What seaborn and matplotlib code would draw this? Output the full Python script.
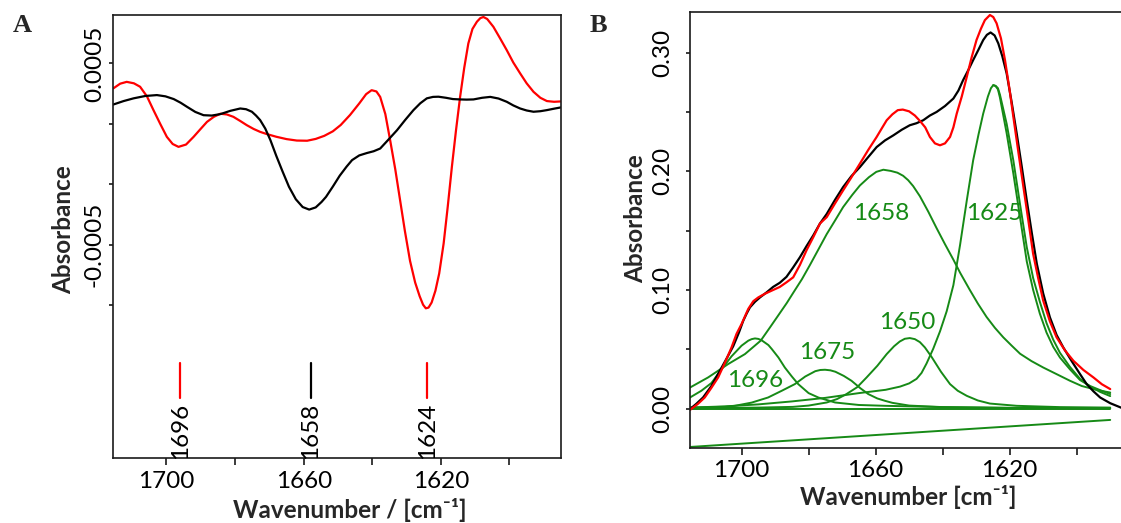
import matplotlib
matplotlib.use("Agg")
import matplotlib.pyplot as plt
import seaborn as sns

# ---------------- Panel A: second-derivative spectra ----------------
wn_a_red = [1715.5, 1713.5, 1711.6, 1709.5, 1707.7, 1705.7, 1703.8, 1701.8, 1699.9, 1698.2,
            1696.5, 1694.3, 1692.1, 1690.2, 1688.2, 1686.2, 1684.3, 1682.4, 1680.5, 1678.5,
            1676.6, 1674.6, 1672.7, 1670.8, 1668.0, 1665.0, 1662.0, 1659.0, 1656.5, 1654.0,
            1651.5, 1649.2, 1646.5, 1643.8, 1641.8, 1640.2, 1638.8, 1637.7, 1636.2, 1634.8,
            1633.3, 1631.9, 1630.5, 1629.0, 1627.5, 1626.2, 1625.2, 1624.4, 1623.6, 1622.7,
            1621.6, 1620.5, 1619.2, 1618.0, 1616.8, 1615.6, 1614.4, 1613.2, 1612.0, 1610.8,
            1609.5, 1608.5, 1607.6, 1606.5, 1604.7, 1602.8, 1600.8, 1598.9, 1596.9, 1595.0,
            1593.0, 1591.0, 1589.1, 1587.0, 1585.0]
abs_a_red = [3.62, 3.88, 3.98, 3.90, 3.71, 3.18, 2.42, 1.65, 0.945, 0.55,
             0.392, 0.52, 0.945, 1.35, 1.77, 2.05, 2.22, 2.18, 2.05, 1.82,
             1.59, 1.38, 1.22, 1.10, 0.95, 0.82, 0.74, 0.73, 0.83, 1.00,
             1.25, 1.60, 2.15, 2.79, 3.30, 3.52, 3.45, 3.15, 2.20, 0.762,
             -0.85, -2.55, -4.25, -5.90, -7.10, -7.85, -8.32, -8.52, -8.48, -8.20,
             -7.55, -6.60, -4.94, -2.90, -0.713, 1.30, 3.15, 4.75, 6.10, 6.90,
             7.30, 7.50, 7.56, 7.45, 7.02, 6.40, 5.73, 5.05, 4.45, 3.90,
             3.43, 3.10, 2.92, 2.88, 2.90]

wn_a_black = [1715.5, 1712.5, 1709.6, 1706.2, 1702.8, 1700.3, 1697.9, 1695.9, 1694.0, 1691.6,
              1689.2, 1686.8, 1684.3, 1681.4, 1678.5, 1676.8, 1675.1, 1673.9, 1672.7, 1671.2,
              1669.7, 1668.0, 1666.2, 1664.3, 1662.3, 1660.3, 1658.4, 1656.5, 1654.8, 1653.5,
              1651.5, 1649.5, 1647.5, 1645.9, 1643.8, 1641.6, 1639.6, 1637.7, 1635.5, 1632.8,
              1630.4, 1628.0, 1626.0, 1624.1, 1622.3, 1620.7, 1618.5, 1616.5, 1614.4, 1612.5,
              1610.5, 1608.0, 1605.6, 1603.2, 1600.8, 1598.9, 1596.9, 1595.0, 1593.0, 1591.0,
              1589.1, 1587.0, 1585.0]
abs_a_black = [2.73, 2.92, 3.07, 3.20, 3.25, 3.18, 3.03, 2.83, 2.60, 2.32,
               2.14, 2.12, 2.20, 2.38, 2.51, 2.47, 2.33, 2.12, 1.87, 1.40,
               0.76, -0.10, -0.95, -1.81, -2.50, -2.93, -3.07, -2.95, -2.65, -2.37,
               -1.80, -1.20, -0.70, -0.34, -0.08, 0.05, 0.15, 0.30, 0.75, 1.31,
               1.88, 2.42, 2.80, 3.07, 3.15, 3.16, 3.10, 3.03, 3.01, 3.00,
               3.01, 3.10, 3.15, 3.06, 2.88, 2.68, 2.51, 2.40, 2.33, 2.36,
               2.42, 2.50, 2.57]

# band positions marked under the spectra
mark_wn = [1696, 1658, 1624]
mark_colors = ["#ff0000", "black", "#ff0000"]

# ---------------- Panel B: amide I band and fitted components ----------------
wn_b_black = [1715.4, 1713.5, 1711.5, 1709.0, 1706.5, 1704.5, 1702.5, 1700.8, 1699.5, 1698.5,
              1697.5, 1696.0, 1694.5, 1692.5, 1690.6, 1688.6, 1686.6, 1684.6, 1682.6, 1680.6,
              1678.6, 1676.6, 1674.6, 1672.1, 1669.7, 1667.2, 1664.7, 1662.2, 1659.7, 1657.2,
              1654.7, 1652.2, 1649.8, 1647.8, 1645.8, 1643.8, 1641.8, 1639.3, 1636.8, 1635.3,
              1633.9, 1632.4, 1630.9, 1629.4, 1627.9, 1626.8, 1625.7, 1624.5, 1623.4, 1622.2,
              1620.9, 1619.4, 1617.9, 1616.4, 1614.9, 1613.4, 1611.9, 1610.0, 1608.0, 1606.0,
              1604.0, 1601.5, 1599.0, 1597.0, 1595.0, 1593.0, 1590.0, 1586.8, 1582.3]
abs_b_black = [-0.0005, 0.0040, 0.0093, 0.0190, 0.0318, 0.0420, 0.0525, 0.0640, 0.0740, 0.0800,
               0.0853, 0.0900, 0.0937, 0.0980, 0.1025, 0.1060, 0.1110, 0.1190, 0.1275, 0.1370,
               0.1460, 0.1560, 0.1640, 0.1760, 0.1867, 0.1960, 0.2035, 0.2120, 0.2204, 0.2260,
               0.2303, 0.2350, 0.2388, 0.2405, 0.2430, 0.2470, 0.2500, 0.2550, 0.2613, 0.2680,
               0.2768, 0.2850, 0.2937, 0.3020, 0.3106, 0.3150, 0.3170, 0.3145, 0.3078, 0.2970,
               0.2824, 0.2580, 0.2318, 0.2040, 0.1754, 0.1480, 0.1220, 0.0970, 0.0769, 0.0620,
               0.0515, 0.0400, 0.0290, 0.0205, 0.0145, 0.0093, 0.0045, 0.0008, -0.0030]

wn_b_red = [1715.4, 1713.0, 1711.0, 1709.0, 1707.0, 1705.0, 1703.0, 1701.5, 1700.0, 1698.0,
            1696.5, 1695.0, 1693.0, 1691.0, 1688.6, 1686.6, 1684.6, 1682.6, 1680.6, 1678.6,
            1676.6, 1674.6, 1672.1, 1669.7, 1667.2, 1664.7, 1662.2, 1659.7, 1658.2, 1656.7,
            1655.0, 1653.4, 1651.9, 1650.0, 1648.3, 1646.8, 1645.2, 1643.8, 1642.3, 1640.8,
            1639.3, 1637.8, 1636.8, 1635.8, 1634.3, 1632.8, 1631.4, 1629.9, 1628.6, 1627.4,
            1625.9, 1624.9, 1623.9, 1622.6, 1621.4, 1620.1, 1618.9, 1617.4, 1615.9, 1614.4,
            1613.0, 1611.5, 1610.0, 1608.0, 1606.0, 1603.5, 1601.0, 1598.0, 1595.0, 1592.5,
            1590.0]
abs_b_red = [-0.0012, 0.0040, 0.0093, 0.0175, 0.0262, 0.0385, 0.0515, 0.0630, 0.0713, 0.0840,
             0.0905, 0.0937, 0.0968, 0.0994, 0.1025, 0.1064, 0.1106, 0.1210, 0.1335, 0.1445,
             0.1560, 0.1613, 0.1730, 0.1839, 0.1950, 0.2064, 0.2180, 0.2289, 0.2360, 0.2430,
             0.2480, 0.2515, 0.2520, 0.2505, 0.2470, 0.2425, 0.2370, 0.2289, 0.2235, 0.2219,
             0.2235, 0.2289, 0.2370, 0.2486, 0.2630, 0.2796, 0.2955, 0.3106, 0.3200, 0.3274,
             0.3317, 0.3300, 0.3247, 0.3120, 0.2937, 0.2700, 0.2458, 0.2160, 0.1867, 0.1580,
             0.1304, 0.1100, 0.0910, 0.0735, 0.0600, 0.0490, 0.0403, 0.0325, 0.0262, 0.0205,
             0.0164]

wn_c1696 = [1715.4, 1712.0, 1709.0, 1706.0, 1703.0, 1700.0, 1698.0, 1697.0, 1696.0, 1695.0,
            1694.0, 1692.0, 1691.0, 1689.0, 1687.1, 1685.0, 1683.1, 1680.0, 1677.1, 1672.1,
            1665.0, 1657.2, 1640.0, 1620.0, 1590.0]
abs_c1696 = [0.0093, 0.0150, 0.0215, 0.0330, 0.0440, 0.0530, 0.0572, 0.0585, 0.0591, 0.0587,
             0.0575, 0.0535, 0.0502, 0.0430, 0.0346, 0.0270, 0.0206, 0.0130, 0.0093, 0.0051,
             0.0030, 0.0023, 0.0012, 0.0006, 0.0003]

wn_c1675 = [1715.4, 1705.0, 1702.0, 1697.0, 1692.1, 1688.0, 1684.1, 1681.0, 1678.0, 1676.5,
            1675.1, 1673.5, 1672.0, 1669.5, 1667.2, 1664.5, 1662.2, 1659.5, 1657.2, 1655.0,
            1650.0, 1640.0, 1620.0, 1590.0]
abs_c1675 = [0.0008, 0.0015, 0.0023, 0.0050, 0.0093, 0.0150, 0.0206, 0.0270, 0.0315, 0.0325,
             0.0327, 0.0322, 0.0310, 0.0275, 0.0234, 0.0170, 0.0122, 0.0085, 0.0065, 0.0048,
             0.0025, 0.0012, 0.0005, 0.0002]

wn_c1658 = [1715.4, 1710.0, 1704.0, 1699.0, 1694.3, 1691.5, 1689.3, 1686.5, 1684.6, 1682.0,
            1679.6, 1677.0, 1674.6, 1672.0, 1669.7, 1667.0, 1664.7, 1662.0, 1659.8, 1657.7,
            1655.5, 1653.5, 1651.8, 1650.3, 1648.8, 1646.8, 1644.3, 1641.8, 1639.3, 1636.8,
            1634.8, 1631.9, 1629.5, 1626.9, 1624.4, 1621.9, 1619.4, 1616.9, 1613.5, 1610.0,
            1606.0, 1602.0, 1598.5, 1595.0, 1592.5, 1590.0]
abs_c1658 = [0.0177, 0.0262, 0.0375, 0.0459, 0.0572, 0.0685, 0.0775, 0.0890, 0.0975, 0.1090,
             0.1210, 0.1345, 0.1470, 0.1590, 0.1698, 0.1800, 0.1880, 0.1950, 0.1995, 0.2013,
             0.2003, 0.1988, 0.1962, 0.1925, 0.1875, 0.1790, 0.1660, 0.1520, 0.1385, 0.1255,
             0.1145, 0.1000, 0.0885, 0.0772, 0.0680, 0.0600, 0.0530, 0.0462, 0.0400, 0.0346,
             0.0290, 0.0234, 0.0190, 0.0164, 0.0148, 0.0135]

wn_c1650 = [1715.4, 1695.0, 1684.7, 1680.0, 1674.6, 1671.5, 1668.7, 1665.5, 1662.7, 1659.5,
            1656.7, 1654.5, 1652.8, 1651.3, 1649.8, 1648.3, 1646.8, 1645.3, 1643.3, 1640.5,
            1637.8, 1635.5, 1632.8, 1629.5, 1625.9, 1617.9, 1605.0, 1590.0]
abs_c1650 = [0.0003, 0.0008, 0.0014, 0.0025, 0.0051, 0.0080, 0.0122, 0.0180, 0.0262, 0.0360,
             0.0459, 0.0525, 0.0565, 0.0588, 0.0594, 0.0585, 0.0560, 0.0515, 0.0435, 0.0310,
             0.0206, 0.0150, 0.0107, 0.0068, 0.0042, 0.0023, 0.0012, 0.0008]

wn_c1625 = [1715.4, 1705.0, 1695.0, 1685.0, 1675.0, 1665.0, 1657.0, 1652.7, 1650.0, 1647.8,
            1646.3, 1644.8, 1642.8, 1640.8, 1638.8, 1636.8, 1634.8, 1632.8, 1630.9, 1629.3,
            1627.9, 1626.5, 1625.6, 1624.9, 1624.2, 1623.5, 1622.9, 1620.9, 1618.9, 1616.9,
            1614.9, 1613.0, 1611.0, 1609.0, 1607.0, 1605.0, 1602.0, 1599.0, 1596.0, 1593.0,
            1590.0]
abs_c1625 = [0.0008, 0.0018, 0.0035, 0.0060, 0.0090, 0.0130, 0.0158, 0.0185, 0.0212, 0.0250,
             0.0300, 0.0380, 0.0505, 0.0650, 0.0820, 0.1040, 0.1380, 0.1754, 0.2092, 0.2310,
             0.2486, 0.2630, 0.2700, 0.2726, 0.2718, 0.2690, 0.2620, 0.2320, 0.1980, 0.1610,
             0.1240, 0.1000, 0.0800, 0.0640, 0.0520, 0.0430, 0.0330, 0.0240, 0.0190, 0.0155,
             0.0122]

wn_c1625_edge = [1624.9, 1624.2, 1623.5, 1622.9, 1620.9, 1618.9, 1616.9, 1614.9, 1613.0, 1611.0,
                 1609.0, 1607.0, 1605.0, 1602.0, 1599.0, 1596.0, 1593.0, 1590.0]
abs_c1625_edge = [0.2726, 0.2720, 0.2700, 0.2645, 0.2400, 0.2090, 0.1720, 0.1360, 0.1100, 0.0900,
                  0.0720, 0.0580, 0.0470, 0.0350, 0.0250, 0.0185, 0.0140, 0.0105]

wn_zero = [1715.4, 1590.0]
abs_zero = [0.0, 0.0]
wn_slope = [1715.4, 1590.0]
abs_slope = [-0.0324, -0.0096]

band_names = ["1696", "1675", "1658", "1650", "1625"]

# ---------------- styling ----------------
sns.set_theme(style="ticks")
plt.rcParams["font.family"] = ["Lato", "DejaVu Sans"]
plt.rcParams["axes.linewidth"] = 1.2
plt.rcParams["axes.edgecolor"] = "#1a1a1a"
plt.rcParams["xtick.color"] = "#1a1a1a"
plt.rcParams["ytick.color"] = "#1a1a1a"
plt.rcParams["xtick.labelcolor"] = "black"
plt.rcParams["ytick.labelcolor"] = "black"

RED = "#ff0000"
GREEN = "#168a16"
FS = 17.5

fig = plt.figure(figsize=(11.21, 5.23), dpi=100)
ax_a = fig.add_axes([0.1011, 0.1237, 0.3993, 0.8476])
ax_b = fig.add_axes([0.6155, 0.1440, 0.3979, 0.8325])

# ----- panel A -----
sns.lineplot(x=wn_a_red, y=[v * 1e-4 for v in abs_a_red], ax=ax_a, color=RED,
             linewidth=1.6, sort=False, estimator=None)
sns.lineplot(x=wn_a_black, y=[v * 1e-4 for v in abs_a_black], ax=ax_a, color="black",
             linewidth=1.6, sort=False, estimator=None)

for wn, col in zip(mark_wn, mark_colors):
    ax_a.plot([wn, wn], [-0.001156, -0.001349], color=col, linewidth=1.6)
    ax_a.text(wn, -0.001372, str(wn), rotation=90, ha="center", va="top",
              fontsize=FS, color="black")

ax_a.set_xlim(1715.5, 1585.0)
ax_a.set_ylim(-0.00168, 0.000767)
ax_a.set_xticks([1700, 1680, 1660, 1640, 1620, 1600])
ax_a.set_xticklabels(["1700", "", "1660", "", "1620", ""])
ytk = [0.0005, 0.0005 - 1 / 3000, 0.0005 - 2 / 3000, -0.0005, -0.0005 - 1 / 3000]
ax_a.set_yticks(ytk)
ax_a.set_yticklabels(["0.0005", "", "", "-0.0005", ""], rotation=90, va="center")
ax_a.tick_params(axis="x", direction="out", length=5, width=1.2, labelsize=FS, pad=4)
ax_a.tick_params(axis="y", direction="out", length=3, width=1.2, labelsize=FS, pad=3)
ax_a.set_xlabel("Wavenumber / [cm⁻¹]", fontsize=FS, fontweight="bold")
ax_a.xaxis.set_label_coords(0.529, -0.09)
ax_a.set_ylabel("Absorbance", fontsize=FS, fontweight="bold")
ax_a.yaxis.set_label_coords(-0.085, 0.515)
for s in ax_a.spines.values():
    s.set_visible(True)

# ----- panel B -----
for wn, ab in [(wn_zero, abs_zero), (wn_slope, abs_slope), (wn_c1696, abs_c1696),
               (wn_c1675, abs_c1675), (wn_c1650, abs_c1650), (wn_c1658, abs_c1658),
               (wn_c1625, abs_c1625), (wn_c1625_edge, abs_c1625_edge)]:
    sns.lineplot(x=wn, y=ab, ax=ax_b, color=GREEN, linewidth=1.4, sort=False, estimator=None)
sns.lineplot(x=wn_b_black, y=abs_b_black, ax=ax_b, color="black", linewidth=1.6,
             sort=False, estimator=None)
sns.lineplot(x=wn_b_red, y=abs_b_red, ax=ax_b, color=RED, linewidth=1.6,
             sort=False, estimator=None)

label_xy = {"1696": (1696.0, 0.0234), "1675": (1674.6, 0.0473), "1658": (1658.2, 0.164),
            "1650": (1650.7, 0.0726), "1625": (1624.7, 0.164)}
for name in band_names:
    x, y = label_xy[name]
    ax_b.text(x, y, name, ha="center", va="center", fontsize=FS, color=GREEN)

ax_b.set_xlim(1715.4, 1582.3)
ax_b.set_ylim(-0.033, 0.334)
ax_b.set_xticks([1700, 1680, 1660, 1640, 1620, 1600])
ax_b.set_xticklabels(["1700", "", "1660", "", "1620", ""])
ax_b.set_yticks([0.0, 0.05, 0.10, 0.15, 0.20, 0.25, 0.30])
ax_b.set_yticklabels(["0.00", "", "0.10", "", "0.20", "", "0.30"], rotation=90, va="center")
ax_b.tick_params(axis="x", direction="out", length=5, width=1.2, labelsize=FS, pad=4)
ax_b.tick_params(axis="y", direction="out", length=3, width=1.2, labelsize=FS, pad=9)
ax_b.set_xlabel("Wavenumber [cm⁻¹]", fontsize=FS, fontweight="bold")
ax_b.xaxis.set_label_coords(0.49, -0.085)
ax_b.set_ylabel("Absorbance", fontsize=FS, fontweight="bold")
ax_b.yaxis.set_label_coords(-0.096, 0.525)
for s in ax_b.spines.values():
    s.set_visible(True)

fig.text(22 / 1121, 1 - 26 / 523, "A", fontsize=19, fontweight="bold",
         family="Liberation Serif", ha="center", va="center")
fig.text(598 / 1121, 1 - 26 / 523, "B", fontsize=19, fontweight="bold",
         family="Liberation Serif", ha="center", va="center")

fig.savefig("out.png", dpi=100, facecolor="white")
